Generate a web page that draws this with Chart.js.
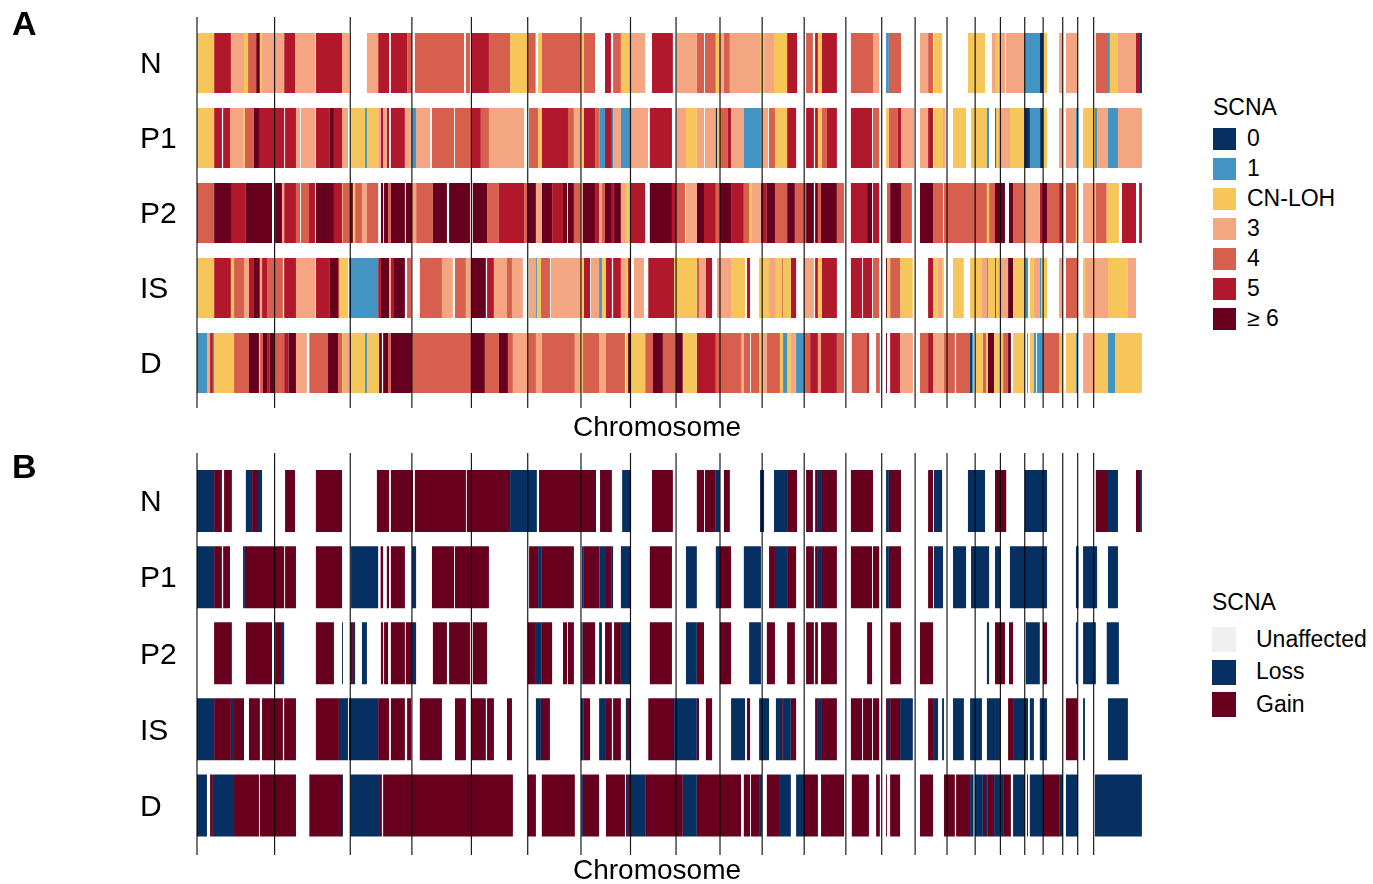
<!DOCTYPE html>
<html>
<head>
<meta charset="utf-8">
<script src="https://cdn.jsdelivr.net/npm/chart.js@4.4.0/dist/chart.umd.min.js"></script>
<style>
body{margin:0;background:#fff;font-family:"Liberation Sans",Arial,sans-serif;color:#000;}
#wrap{position:relative;width:1373px;height:884px;overflow:hidden;}
.panel{position:absolute;left:0;width:1200px;height:442px;}
.tag{position:absolute;left:12px;font-weight:bold;font-size:34px;line-height:34px;}
.xt{position:absolute;left:557px;width:200px;text-align:center;font-size:28px;line-height:28px;}
.leg{position:absolute;font-size:23px;}
.leg .ttl{position:absolute;left:0;white-space:nowrap;}
.leg .sw{position:absolute;left:0;}
.leg .lb{position:absolute;white-space:nowrap;}
</style>
</head>
<body>
<div id="wrap">
  <div class="panel" style="top:0"><canvas id="chartA"></canvas></div>
  <div class="panel" style="top:442px"><canvas id="chartB"></canvas></div>
  <div class="tag" style="top:6px">A</div>
  <div class="tag" style="top:449px">B</div>
  <div class="xt" style="top:413px">Chromosome</div>
  <div class="xt" style="top:856px">Chromosome</div>
  <div class="leg" id="legA" style="left:1213px;top:94px"></div>
  <div class="leg" id="legB" style="left:1212px;top:589px"></div>
</div>
<script>
// chromosome lengths (Mb, hg19), 1..22 + X
const chromLengths = [249.3, 243.2, 198.0, 191.2, 180.9, 171.1, 159.1, 146.4, 141.2, 135.5, 135.0, 133.9,
  115.2, 107.3, 102.5, 90.4, 81.2, 78.1, 59.1, 63.0, 48.1, 51.3, 155.3];
const samples = ['N', 'P1', 'P2', 'IS', 'D'];

// panel A: copy number states, 2 = CN-LOH
const scnaCodes = [0, 1, 2, 3, 4, 5, 6];
const scnaLabels = ['0', '1', 'CN-LOH', '3', '4', '5', '\u2265 6'];
const scnaColors = ['#053061', '#4393C3', '#F6C65B', '#F4A582', '#D6604D', '#B2182B', '#67001F'];

// segments: [start Mb, end Mb, state]
const scnaN = [[0,55,2],[55,109,5],[109,151,3],[151,164,2],[164,190,4],[190,202,6],[202,209,2],[209,280,3],[280,315,5],[315,379,3],[382,466,5],[466,490,3],[546,582,3],[582,617,5],[623,675,5],[675,691,4],[700,858,4],[864,877,4],[882,938,5],[938,1006,4],[1006,1063,2],[1063,1088,4],[1096,1108,2],[1108,1233,4],[1235,1242,2],[1242,1279,4],[1311,1330,5],[1337,1362,4],[1362,1394,2],[1394,1440,3],[1462,1529,5],[1541,1606,3],[1606,1629,4],[1632,1667,4],[1667,1680,2],[1680,1693,3],[1693,1712,4],[1712,1809,3],[1809,1822,2],[1822,1854,3],[1854,1896,2],[1896,1928,5],[1957,1979,4],[1986,1995,5],[1995,2008,2],[2008,2056,5],[2101,2172,4],[2172,2192,3],[2214,2223,1],[2223,2262,4],[2323,2349,3],[2349,2365,4],[2368,2394,2],[2477,2532,2],[2554,2567,3],[2567,2580,2],[2580,2596,3],[2599,2660,3],[2660,2708,1],[2708,2718,0],[2718,2731,2],[2770,2782,3],[2792,2828,3],[2888,2927,4],[2927,2933,1],[2933,2959,2],[2959,3017,3],[3017,3030,5],[3030,3036,0]];
const scnaP1 = [[0,55,2],[55,80,5],[84,106,5],[106,148,3],[148,154,2],[154,183,4],[183,202,6],[202,280,5],[283,318,5],[318,331,3],[334,379,3],[382,427,5],[427,440,6],[440,466,5],[466,485,3],[495,540,2],[540,546,1],[546,582,2],[582,590,3],[590,598,5],[598,610,3],[610,617,5],[623,668,5],[668,691,3],[691,704,1],[704,749,3],[755,826,4],[829,882,4],[882,912,5],[912,938,4],[938,1051,3],[1067,1096,4],[1096,1108,2],[1108,1192,5],[1192,1211,4],[1211,1233,3],[1237,1243,2],[1243,1279,5],[1279,1293,4],[1293,1311,1],[1311,1333,5],[1333,1337,1],[1337,1362,3],[1362,1394,1],[1394,1449,3],[1455,1526,5],[1541,1571,3],[1571,1606,2],[1606,1629,3],[1632,1667,3],[1667,1671,0],[1671,1680,2],[1680,1706,4],[1706,1716,5],[1716,1757,3],[1757,1812,1],[1812,1835,3],[1838,1857,4],[1857,1896,2],[1896,1925,5],[1957,1982,5],[1986,1995,5],[1995,2008,2],[2008,2024,4],[2024,2056,5],[2101,2169,5],[2172,2192,4],[2214,2223,2],[2223,2252,4],[2252,2262,5],[2262,2304,3],[2323,2349,3],[2349,2365,5],[2368,2397,2],[2397,2405,3],[2429,2471,2],[2487,2538,2],[2538,2545,1],[2564,2567,5],[2567,2580,2],[2580,2612,3],[2612,2660,2],[2660,2676,0],[2676,2709,1],[2709,2718,0],[2718,2731,2],[2770,2782,3],[2792,2824,3],[2824,2832,1],[2847,2885,2],[2885,2892,1],[2892,2927,3],[2927,2959,1],[2959,3036,3]];
const scnaP2 = [[0,55,4],[55,112,6],[112,157,5],[157,241,6],[251,273,6],[273,280,3],[280,318,5],[318,331,4],[334,360,4],[360,379,5],[382,440,6],[440,466,5],[466,469,3],[469,493,4],[493,501,6],[501,508,2],[508,530,4],[530,546,3],[546,582,4],[591,598,6],[601,614,6],[614,623,4],[623,668,6],[671,691,6],[691,704,3],[704,758,4],[758,803,6],[810,877,6],[886,932,6],[932,970,4],[970,1051,5],[1051,1063,4],[1063,1089,6],[1089,1108,3],[1108,1141,6],[1141,1176,5],[1176,1189,6],[1192,1211,6],[1211,1233,4],[1235,1239,3],[1239,1279,6],[1279,1292,5],[1292,1301,3],[1301,1311,4],[1311,1333,6],[1333,1340,5],[1340,1362,6],[1362,1378,3],[1378,1394,2],[1394,1440,5],[1455,1526,6],[1526,1541,5],[1541,1568,4],[1571,1606,3],[1606,1629,6],[1629,1667,5],[1667,1680,4],[1680,1716,6],[1716,1757,5],[1757,1774,4],[1774,1783,2],[1783,1812,3],[1812,1831,5],[1831,1857,6],[1857,1896,4],[1896,1921,6],[1921,1957,4],[1957,1982,6],[1986,1995,6],[1995,2005,4],[2005,2056,6],[2056,2079,4],[2101,2153,5],[2153,2169,6],[2172,2192,5],[2217,2227,4],[2227,2262,6],[2262,2297,4],[2323,2365,6],[2365,2397,4],[2400,2538,4],[2538,2545,2],[2545,2564,4],[2564,2596,6],[2609,2622,6],[2622,2663,4],[2663,2708,3],[2708,2718,5],[2718,2731,6],[2731,2770,4],[2770,2782,5],[2792,2824,4],[2824,2828,2],[2847,2888,3],[2888,2923,4],[2923,2962,2],[2972,3017,5],[3027,3036,5]];
const scnaIS = [[0,55,2],[55,109,5],[109,119,2],[119,151,4],[151,167,3],[167,183,5],[183,202,6],[202,209,3],[209,225,5],[225,276,4],[280,318,5],[318,379,3],[382,427,5],[427,453,6],[453,456,5],[456,485,2],[488,582,1],[582,591,5],[591,617,6],[617,623,3],[623,633,5],[633,668,6],[675,688,4],[716,787,4],[787,822,3],[829,864,4],[864,882,3],[882,928,6],[932,954,5],[954,996,3],[996,1012,4],[1012,1047,3],[1066,1089,3],[1089,1092,1],[1092,1105,2],[1105,1134,4],[1137,1233,3],[1233,1243,2],[1243,1263,5],[1266,1292,3],[1292,1301,1],[1301,1314,2],[1314,1333,5],[1337,1362,5],[1362,1378,3],[1378,1385,2],[1385,1394,5],[1404,1436,3],[1450,1533,5],[1533,1606,2],[1606,1613,4],[1613,1635,3],[1635,1655,5],[1671,1716,3],[1716,1761,2],[1767,1777,5],[1806,1838,2],[1838,1860,3],[1860,1880,2],[1880,1883,4],[1883,1908,2],[1908,1925,5],[1949,1982,3],[1986,1995,5],[1995,2008,2],[2008,2056,5],[2101,2137,5],[2140,2169,5],[2172,2192,4],[2214,2217,6],[2217,2227,2],[2227,2259,4],[2259,2300,2],[2349,2365,5],[2365,2381,2],[2381,2394,3],[2394,2400,2],[2429,2464,2],[2484,2522,2],[2522,2538,3],[2538,2541,1],[2541,2564,2],[2564,2567,5],[2567,2580,2],[2580,2606,3],[2606,2622,6],[2622,2660,2],[2660,2670,1],[2676,2689,2],[2689,2708,3],[2708,2712,1],[2712,2731,2],[2770,2782,3],[2792,2828,4],[2847,2853,2],[2853,2927,3],[2927,2991,2],[2991,3017,3]];
const scnaD = [[0,32,1],[32,42,3],[42,51,5],[51,55,1],[55,119,2],[119,167,4],[167,199,6],[202,212,4],[212,225,6],[225,234,5],[234,251,6],[251,280,4],[280,294,5],[294,318,6],[318,353,3],[361,421,4],[421,453,6],[453,466,4],[466,469,2],[469,493,3],[493,540,2],[540,546,1],[546,585,2],[585,594,6],[598,614,6],[614,623,4],[623,691,6],[691,882,4],[882,925,6],[925,970,4],[970,999,6],[999,1015,4],[1015,1063,3],[1063,1089,4],[1089,1108,3],[1108,1214,4],[1214,1235,3],[1235,1240,2],[1240,1292,4],[1292,1314,3],[1314,1375,4],[1378,1385,2],[1385,1394,6],[1394,1440,2],[1440,1465,4],[1465,1497,6],[1497,1539,4],[1539,1561,6],[1561,1606,2],[1606,1667,5],[1667,1748,4],[1748,1757,3],[1757,1777,4],[1780,1806,4],[1806,1815,2],[1815,1831,3],[1831,1873,4],[1873,1883,2],[1883,1896,1],[1896,1908,2],[1908,1925,3],[1925,1947,1],[1947,1970,4],[1970,1995,5],[1995,2005,3],[2005,2056,5],[2056,2079,4],[2104,2153,4],[2153,2159,5],[2182,2194,4],[2214,2217,6],[2227,2259,5],[2259,2300,3],[2323,2349,4],[2349,2365,5],[2365,2400,3],[2400,2435,4],[2439,2484,4],[2484,2490,0],[2490,2495,1],[2499,2525,2],[2525,2535,4],[2535,2541,2],[2541,2561,6],[2561,2590,2],[2590,2606,4],[2606,2615,6],[2622,2660,2],[2667,2670,4],[2676,2689,2],[2689,2696,1],[2699,2718,1],[2718,2770,4],[2770,2782,2],[2792,2824,2],[2824,2831,1],[2847,2885,3],[2885,2927,2],[2927,2950,1],[2950,3036,2]];

// panel B: -1 = loss, 1 = gain (unaffected stretches are left blank)
const glCodes = [0, -1, 1];
const glLabels = ['Unaffected', 'Loss', 'Gain'];
const glColors = ['#F0F0F0', '#053061', '#67001F'];
const glN = [[0,55,-1],[55,80,1],[87,112,1],[157,177,-1],[177,196,1],[196,209,-1],[283,315,1],[382,466,1],[578,617,1],[623,694,1],[700,864,1],[867,1006,1],[1006,1063,-1],[1063,1092,-1],[1099,1237,1],[1237,1282,1],[1295,1333,1],[1366,1394,-1],[1462,1529,1],[1606,1629,1],[1632,1667,1],[1667,1680,-1],[1693,1712,1],[1809,1822,-1],[1854,1896,-1],[1896,1928,1],[1957,1979,1],[1986,1995,1],[1995,2008,-1],[2008,2056,1],[2101,2172,1],[2214,2223,-1],[2223,2262,1],[2349,2365,1],[2368,2394,-1],[2477,2532,-1],[2564,2600,1],[2660,2731,-1],[2888,2927,1],[2927,2959,-1],[3017,3030,1],[3030,3036,-1]];
const glP1 = [[0,55,-1],[55,80,1],[84,106,1],[148,154,-1],[154,280,1],[283,318,1],[382,466,1],[495,582,-1],[590,598,1],[610,617,1],[623,668,1],[691,704,-1],[755,826,1],[829,938,1],[1067,1096,1],[1096,1108,-1],[1108,1211,1],[1237,1243,-1],[1243,1293,1],[1293,1311,-1],[1311,1333,1],[1333,1337,-1],[1362,1394,-1],[1455,1526,1],[1571,1606,-1],[1667,1680,-1],[1680,1716,1],[1757,1812,-1],[1838,1857,1],[1857,1896,-1],[1896,1925,1],[1957,1982,1],[1986,1995,1],[1995,2008,-1],[2008,2056,1],[2101,2169,1],[2172,2192,1],[2214,2223,-1],[2223,2262,1],[2349,2365,1],[2368,2397,-1],[2429,2471,-1],[2487,2545,-1],[2564,2567,1],[2567,2580,-1],[2612,2731,-1],[2824,2832,-1],[2847,2892,-1],[2927,2959,-1]];
const glP2 = [[55,112,1],[157,241,1],[251,273,1],[273,280,-1],[382,440,1],[466,469,-1],[493,501,1],[501,508,-1],[530,546,-1],[591,598,1],[601,614,1],[623,668,1],[671,691,1],[691,704,-1],[758,803,1],[810,877,1],[886,932,1],[1063,1089,1],[1089,1108,-1],[1108,1141,1],[1176,1189,1],[1192,1211,1],[1235,1239,-1],[1239,1279,1],[1292,1301,-1],[1311,1333,1],[1340,1362,1],[1362,1394,-1],[1455,1526,1],[1571,1606,-1],[1606,1629,1],[1680,1716,1],[1774,1812,-1],[1831,1857,1],[1896,1921,1],[1957,1982,1],[1986,1995,1],[2005,2056,1],[2153,2169,1],[2227,2262,1],[2323,2365,1],[2538,2545,-1],[2564,2596,1],[2609,2622,1],[2663,2708,-1],[2718,2731,1],[2824,2828,-1],[2847,2888,-1],[2923,2962,-1]];
const glIS = [[0,55,-1],[55,109,1],[109,119,-1],[119,151,1],[167,202,1],[209,276,1],[280,318,1],[382,456,1],[456,485,-1],[488,582,-1],[582,617,1],[623,668,1],[675,688,1],[716,787,1],[829,864,1],[882,928,1],[932,954,1],[996,1012,1],[1089,1105,-1],[1105,1134,1],[1233,1243,-1],[1243,1263,1],[1292,1314,-1],[1314,1333,1],[1337,1362,1],[1378,1385,-1],[1385,1394,1],[1450,1533,1],[1533,1606,-1],[1606,1613,1],[1635,1655,1],[1716,1761,-1],[1767,1777,1],[1806,1838,-1],[1860,1880,-1],[1880,1883,1],[1883,1908,-1],[1908,1925,1],[1986,1995,1],[1995,2008,-1],[2008,2056,1],[2101,2137,1],[2140,2169,1],[2172,2192,1],[2214,2217,1],[2217,2227,-1],[2227,2259,1],[2259,2300,-1],[2349,2365,1],[2365,2381,-1],[2394,2400,-1],[2429,2464,-1],[2484,2522,-1],[2538,2564,-1],[2564,2567,1],[2567,2580,-1],[2606,2622,1],[2622,2670,-1],[2676,2689,-1],[2708,2731,-1],[2792,2828,1],[2847,2853,-1],[2927,2991,-1]];
const glD = [[0,32,-1],[42,51,1],[51,119,-1],[119,199,1],[202,318,1],[361,466,1],[466,469,-1],[493,585,-1],[585,594,1],[598,1015,1],[1063,1089,1],[1108,1214,1],[1235,1240,-1],[1240,1292,1],[1314,1375,1],[1378,1385,-1],[1385,1394,1],[1394,1440,-1],[1440,1561,1],[1561,1606,-1],[1606,1748,1],[1757,1777,1],[1780,1806,1],[1806,1815,-1],[1831,1873,1],[1873,1908,-1],[1925,1947,-1],[1947,1995,1],[2005,2079,1],[2104,2159,1],[2182,2194,1],[2214,2217,1],[2227,2259,1],[2323,2365,1],[2400,2435,1],[2439,2484,1],[2484,2495,-1],[2499,2525,-1],[2525,2535,1],[2535,2541,-1],[2541,2561,1],[2561,2590,-1],[2590,2615,1],[2622,2660,-1],[2667,2670,1],[2676,2718,-1],[2718,2770,1],[2770,2782,-1],[2792,2831,-1],[2885,3036,-1]];

const chromStarts = [];
let acc = 0;
chromLengths.forEach(l => { chromStarts.push(acc); acc += l; });
const genomeEnd = acc;

function makeDatasets(rowSegs, codes, colors, labels, barPct) {
  return codes.map((code, k) => ({
    label: labels[k],
    backgroundColor: colors[k],
    borderWidth: 0,
    grouped: false,
    barPercentage: barPct,
    categoryPercentage: 1,
    data: rowSegs.flatMap((segs, r) => segs.filter(s => s[2] === code)
      .map(s => ({ x: [s[0], s[1]], y: samples[r] })))
  }));
}

const chromLines = {
  id: 'chromLines',
  afterDatasetsDraw(chart, args, opts) {
    const ctx = chart.ctx, xs = chart.scales.x, a = chart.chartArea;
    ctx.save();
    ctx.strokeStyle = 'rgba(0,0,0,0.9)';
    ctx.lineWidth = 1.2;
    chromStarts.forEach(v => {
      const px = xs.getPixelForValue(v);
      ctx.beginPath();
      ctx.moveTo(px, a.top - opts.up);
      ctx.lineTo(px, a.bottom + opts.down);
      ctx.stroke();
    });
    ctx.restore();
  }
};

function makeChart(id, datasets, pad, up, down) {
  return new Chart(document.getElementById(id), {
    type: 'bar',
    data: { labels: samples, datasets: datasets },
    plugins: [chromLines],
    options: {
      indexAxis: 'y',
      responsive: true,
      maintainAspectRatio: false,
      animation: false,
      layout: { padding: pad },
      plugins: { legend: { display: false }, tooltip: { enabled: false }, chromLines: { up: up, down: down } },
      scales: {
        x: { type: 'linear', min: 0, max: genomeEnd, display: false },
        y: {
          type: 'category',
          offset: true,
          grid: { display: false },
          border: { display: false },
          ticks: { crossAlign: 'far', color: '#000', padding: 0, labelOffset: 2,
            font: { family: '"Liberation Sans", Arial, sans-serif', size: 30 } },
          afterFit(scale) { scale.width = 57; }
        }
      }
    }
  });
}

makeChart('chartA',
  makeDatasets([scnaN, scnaP1, scnaP2, scnaIS, scnaD], scnaCodes, scnaColors, scnaLabels, 0.8),
  { left: 140, right: 58, top: 25.5, bottom: 41.5 }, 8.5, 7.5);
makeChart('chartB',
  makeDatasets([glN, glP1, glP2, glIS, glD], glCodes, glColors, glLabels, 0.815),
  { left: 140, right: 58, top: 21, bottom: 40.5 }, 10, 11.5);

function legend(id, labels, colors, sw, pitch, first, lbLeft) {
  const el = document.getElementById(id);
  let h = '<div class="ttl" style="top:0">SCNA</div>';
  labels.forEach((t, i) => {
    const top = first + i * pitch;
    h += '<div class="sw" style="top:' + top + 'px;width:' + sw[0] + 'px;height:' + sw[1] + 'px;background:' + colors[i] + '"></div>';
    h += '<div class="lb" style="left:' + lbLeft + 'px;top:' + (top + sw[1] / 2 - 14) + 'px">' + t + '</div>';
  });
  el.innerHTML = h;
}
legend('legA', scnaLabels, scnaColors, [23, 22], 30, 34, 34);
legend('legB', glLabels, glColors, [24, 25], 32.5, 38, 44);
</script>
</body>
</html>
